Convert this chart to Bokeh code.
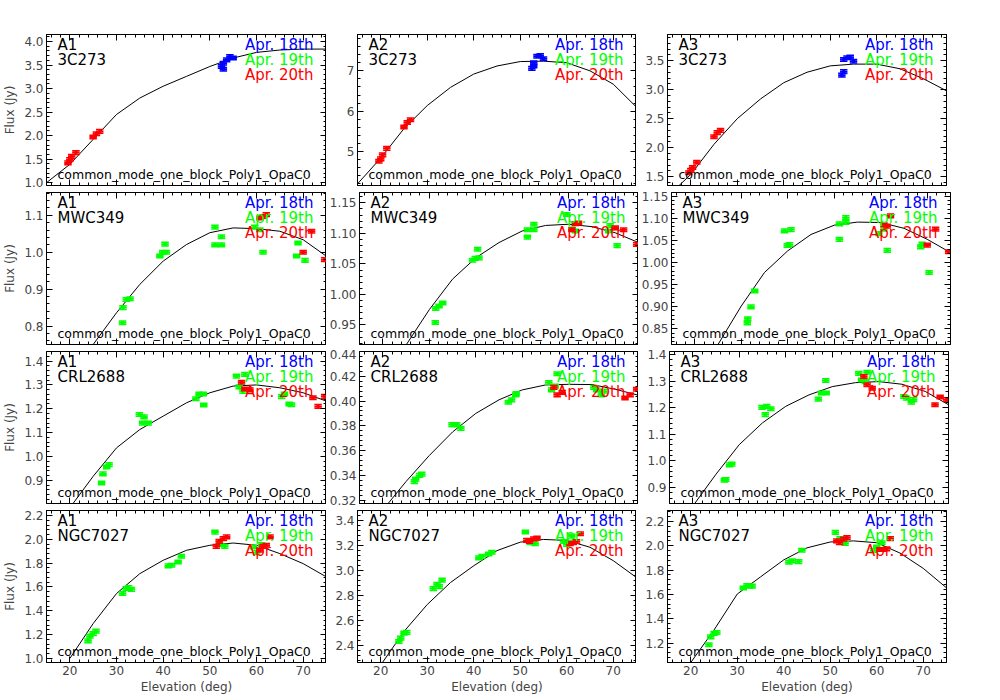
from bokeh.plotting import figure
from bokeh.layouts import column, row
from bokeh.models import Range1d, LinearAxis, SingleIntervalTicker, PrintfTickFormatter, CustomJSTickFormatter, Label, ColumnDataSource
from bokeh.embed import file_html
from bokeh.resources import INLINE

antennas = ["A1", "A2", "A3"]
sources = ["3C273", "MWC349", "CRL2688", "NGC7027"]
day_labels = ["Apr. 18th", "Apr. 19th", "Apr. 20th"]
day_colors = ["#0000ff", "#00ff00", "#ff0000"]
bottom_text = "common_mode_one_block_Poly1_OpaC0"
curve_el = [15, 20, 25, 30, 35, 40, 45, 50, 55, 60, 65, 70, 75]

# ---- 3C273 ----
c3_el18 = [52.5, 52.9, 52.9, 53.6, 54.3, 55.0]
c3_el20 = [19.6, 20.0, 20.4, 21.3, 25.0, 25.7, 26.4]
c3_A1_18 = [3.47, 3.41, 3.54, 3.61, 3.68, 3.65]
c3_A1_20 = [1.42, 1.49, 1.56, 1.64, 1.97, 2.04, 2.09]
c3_A2_18 = [7.06, 7.12, 7.20, 7.36, 7.38, 7.30]
c3_A2_20 = [4.76, 4.82, 4.92, 5.08, 5.61, 5.72, 5.79]
c3_A3_18 = [3.25, 3.31, 3.52, 3.55, 3.56, 3.49]
c3_A3_20 = [1.57, 1.61, 1.66, 1.75, 2.19, 2.26, 2.30]
c3_A1_fit = [1.00, 1.39, 1.92, 2.45, 2.80, 3.05, 3.26, 3.47, 3.65, 3.77, 3.82, 3.84, 3.84]
c3_A2_fit = [4.20, 4.84, 5.57, 6.14, 6.59, 6.92, 7.12, 7.23, 7.24, 7.20, 7.00, 6.67, 6.10]
c3_A3_fit = [1.16, 1.54, 2.06, 2.50, 2.84, 3.12, 3.30, 3.41, 3.44, 3.44, 3.36, 3.19, 2.98]

# ---- MWC349 ----
mw_el19 = [31.3, 31.4, 32.1, 32.9, 39.3, 39.9, 40.4, 40.7, 51.1, 51.1, 52.5, 52.5, 59.6, 60.7, 61.4, 68.6, 68.9, 70.4]
mw_el20 = [60.7, 61.4, 62.1, 70.0, 71.8, 74.6]
mw_A1_19 = [0.809, 0.85, 0.872, 0.874, 0.99, 1.0, 1.022, 1.0, 1.068, 1.02, 1.02, 1.042, 1.068, 1.061, 1.0, 0.99, 1.025, 0.978]
mw_A1_20 = [1.093, 1.097, 1.102, 1.0, 1.057, 0.98]
mw_A2_19 = [0.954, 0.977, 0.981, 0.986, 1.056, 1.059, 1.074, 1.06, 1.094, 1.106, 1.115, 1.106, 1.131, 1.107, 1.104, 1.104, 1.113, 1.080]
mw_A2_20 = [1.106, 1.116, 1.117, 1.109, 1.106, 1.082]
mw_A3_19 = [0.863, 0.872, 0.899, 0.935, 1.071, 1.038, 1.04, 1.074, 1.052, 1.087, 1.09, 1.101, 1.065, 1.075, 1.027, 1.035, 1.041, 0.977]
mw_A3_20 = [1.085, 1.082, 1.105, 1.039, 1.075, 1.024]
mw_A1_fit = [None, None, 0.75, 0.836, 0.913, 0.976, 1.021, 1.053, 1.066, 1.064, 1.057, 1.034, 0.989]
mw_A2_fit = [None, None, 0.917, 0.975, 1.025, 1.060, 1.085, 1.104, 1.113, 1.115, 1.111, 1.101, 1.085]
mw_A3_fit = [None, None, 0.814, 0.901, 0.977, 1.026, 1.063, 1.084, 1.091, 1.090, 1.077, 1.052, 1.022]

# ---- CRL2688 ----
cr_el19 = [26.8, 27.1, 27.9, 28.4, 34.9, 35.6, 35.9, 36.8, 47.0, 47.7, 48.6, 48.7, 55.7, 56.3, 57.1, 57.5, 65.4, 66.0, 67.0, 67.5]
cr_el20 = [56.8, 57.5, 58.6, 72.1, 73.2, 74.6]
cr_A1_19 = [0.889, 0.927, 0.956, 0.966, 1.176, 1.14, 1.166, 1.14, 1.242, 1.262, 1.262, 1.216, 1.337, 1.292, 1.273, 1.344, 1.251, 1.262, 1.22, 1.217]
cr_A1_20 = [1.311, 1.283, 1.279, 1.246, 1.21, 1.252]
cr_A2_19 = [0.335, 0.337, 0.340, 0.341, 0.381, 0.381, 0.381, 0.378, 0.399, 0.401, 0.405, 0.406, 0.415, 0.409, 0.412, 0.422, 0.411, 0.409, 0.405, 0.408]
cr_A2_20 = [0.411, 0.405, 0.407, 0.4025, 0.405, 0.4095]
cr_A3_19 = [0.928, 0.93, 0.985, 0.988, 1.201, 1.174, 1.205, 1.196, 1.232, 1.255, 1.302, 1.255, 1.329, 1.304, 1.298, 1.333, 1.242, 1.236, 1.221, 1.23]
cr_A3_20 = [1.317, 1.286, 1.273, 1.211, 1.24, 1.23]
cr_A1_fit = [None, 0.785, 0.917, 1.036, 1.113, 1.169, 1.225, 1.267, 1.295, 1.300, 1.288, 1.267, 1.232]
cr_A2_fit = [None, 0.312, 0.335, 0.356, 0.375, 0.390, 0.401, 0.409, 0.413, 0.4135, 0.4133, 0.4095, 0.4047]
cr_A3_fit = [None, 0.83, 0.95, 1.061, 1.143, 1.205, 1.248, 1.279, 1.294, 1.298, 1.288, 1.261, 1.211]

# ---- NGC7027 ----
ng_el19 = [23.9, 24.3, 25.0, 25.6, 31.3, 32.1, 32.6, 33.2, 41.1, 41.8, 43.2, 43.9, 51.1, 52.1, 53.2, 59.3, 60.0, 61.1]
ng_el20 = [51.4, 52.0, 52.9, 53.6, 60.7, 61.4, 62.1, 62.9]
ng_A1_19 = [1.148, 1.187, 1.209, 1.229, 1.545, 1.587, 1.594, 1.58, 1.777, 1.782, 1.81, 1.858, 2.061, 1.955, 1.941, 1.936, 1.888, 1.955]
ng_A1_20 = [1.941, 1.983, 2.006, 2.02, 1.908, 1.941, 1.95, 2.02]
ng_A2_19 = [2.429, 2.456, 2.497, 2.502, 2.855, 2.89, 2.871, 2.923, 3.102, 3.115, 3.134, 3.148, 3.311, 3.224, 3.216, 3.234, 3.21, 3.278]
ng_A2_20 = [3.243, 3.234, 3.256, 3.262, 3.216, 3.224, 3.234, 3.297]
ng_A3_19 = [1.186, 1.251, 1.279, 1.287, 1.653, 1.673, 1.668, 1.668, 1.865, 1.876, 1.87, 1.963, 2.11, 2.059, 2.02, 1.96, 1.99, 2.025]
ng_A3_20 = [2.04, 2.026, 2.054, 2.068, 1.969, 1.969, 1.975, 2.059]
ng_A1_fit = [None, 1.0, 1.293, 1.545, 1.712, 1.824, 1.908, 1.95, 1.969, 1.95, 1.88, 1.796, 1.684]
ng_A2_fit = [None, 2.24, 2.51, 2.727, 2.904, 3.039, 3.161, 3.229, 3.251, 3.243, 3.188, 3.08, 2.944]
ng_A3_fit = [None, 1.04, 1.307, 1.603, 1.744, 1.884, 1.983, 2.031, 2.04, 2.025, 1.94, 1.814, 1.654]

y_ranges = [
    [(0.94, 4.15), (4.16, 7.9), (1.35, 3.95)],
    [(0.75, 1.162), (0.918, 1.167), (0.814, 1.158)],
    [(0.803, 1.44), (0.3173, 0.44), (0.84, 1.411)],
    [(0.966, 2.242), (2.26, 3.484), (1.04, 2.29)],
]
y_steps = [[0.5, 1, 0.5], [0.1, 0.05, 0.05], [0.1, 0.02, 0.1], [0.2, 0.2, 0.2]]
y_fmts = [["%.1f", "%d", "%.1f"], ["%.1f", "%.2f", "%.2f"], ["%.1f", "%.2f", "%.1f"], ["%.1f", "%.1f", "%.1f"]]

panels = {
    (0, 0): [(c3_el18, c3_A1_18, 0), (c3_el20, c3_A1_20, 2), c3_A1_fit],
    (0, 1): [(c3_el18, c3_A2_18, 0), (c3_el20, c3_A2_20, 2), c3_A2_fit],
    (0, 2): [(c3_el18, c3_A3_18, 0), (c3_el20, c3_A3_20, 2), c3_A3_fit],
    (1, 0): [(mw_el19, mw_A1_19, 1), (mw_el20, mw_A1_20, 2), mw_A1_fit],
    (1, 1): [(mw_el19, mw_A2_19, 1), (mw_el20, mw_A2_20, 2), mw_A2_fit],
    (1, 2): [(mw_el19, mw_A3_19, 1), (mw_el20, mw_A3_20, 2), mw_A3_fit],
    (2, 0): [(cr_el19, cr_A1_19, 1), (cr_el20, cr_A1_20, 2), cr_A1_fit],
    (2, 1): [(cr_el19, cr_A2_19, 1), (cr_el20, cr_A2_20, 2), cr_A2_fit],
    (2, 2): [(cr_el19, cr_A3_19, 1), (cr_el20, cr_A3_20, 2), cr_A3_fit],
    (3, 0): [(ng_el19, ng_A1_19, 1), (ng_el20, ng_A1_20, 2), ng_A1_fit],
    (3, 1): [(ng_el19, ng_A2_19, 1), (ng_el20, ng_A2_20, 2), ng_A2_fit],
    (3, 2): [(ng_el19, ng_A3_19, 1), (ng_el20, ng_A3_20, 2), ng_A3_fit],
}

FONT = "DejaVu Sans"
left_borders = [42, 31, 31]
right_borders = [0, 0, 50]
top_borders = [34, 2, 2, 2]
bottom_borders = [5, 5, 5, 36]

def style_axis(ax, labels, step, fmt, minor):
    ax.ticker = SingleIntervalTicker(interval=step, num_minor_ticks=minor)
    if labels:
        ax.formatter = PrintfTickFormatter(format=fmt)
        ax.major_label_standoff = 3
    else:
        ax.formatter = CustomJSTickFormatter(code="return ''")
        ax.major_label_standoff = 0
    ax.major_label_text_font_size = "12px"
    ax.major_tick_in = 6
    ax.major_tick_out = 0
    ax.minor_tick_in = 3
    ax.minor_tick_out = 0
    ax.axis_line_color = "black"
    ax.major_tick_line_color = "black"
    ax.minor_tick_line_color = "black"
    ax.major_label_text_font = FONT
    ax.axis_label_text_font = FONT
    ax.axis_label_text_font_size = "12px"
    ax.axis_label_text_font_style = "normal"

rows = []
for r in range(4):
    figs = []
    for c in range(3):
        y0, y1 = y_ranges[r][c]
        p = figure(frame_width=280 if c == 0 else 279, frame_height=151 if r == 0 else 152,
                   x_range=Range1d(15, 75), y_range=Range1d(y0, y1),
                   output_backend="svg", toolbar_location=None,
                   min_border_left=left_borders[c], min_border_right=right_borders[c],
                   min_border_top=top_borders[r], min_border_bottom=bottom_borders[r],
                   background_fill_color="white", border_fill_color="white")
        p.grid.visible = False
        p.outline_line_color = "black"
        style_axis(p.xaxis[0], r == 3, 10, "%d", 5)
        style_axis(p.yaxis[0], True, y_steps[r][c], y_fmts[r][c], 5)
        if r == 3:
            p.xaxis[0].axis_label = "Elevation (deg)"
            p.xaxis[0].axis_label_standoff = 2
        if c == 0:
            p.yaxis[0].axis_label = "Flux (Jy)"
            p.yaxis[0].axis_label_standoff = 4
        top = LinearAxis()
        style_axis(top, False, 10, "%d", 5)
        p.add_layout(top, "above")
        rt = LinearAxis()
        style_axis(rt, False, y_steps[r][c], y_fmts[r][c], 5)
        p.add_layout(rt, "right")

        d1, d2, fit = panels[(r, c)]
        fx = [e for e, v in zip(curve_el, fit) if v is not None]
        fy = [v for v in fit if v is not None]
        p.line(fx, fy, color="black", line_width=1)
        err = 0.012 * (y1 - y0)
        for el, fl, di in (d1, d2):
            col = day_colors[di]
            src = ColumnDataSource(dict(
                x=el, y=fl,
                x0=[e - 0.8 for e in el], x1=[e + 0.8 for e in el],
                lo=[f - err for f in fl], hi=[f + err for f in fl]))
            p.segment("x0", "y", "x1", "y", source=src, color=col, line_width=2)
            p.segment("x0", "lo", "x1", "lo", source=src, color=col, line_width=1.5)
            p.segment("x0", "hi", "x1", "hi", source=src, color=col, line_width=1.5)
            p.segment("x", "lo", "x", "hi", source=src, color=col, line_width=3)

        p.add_layout(Label(x=15, y=y1, x_offset=11, y_offset=-1, text=antennas[c],
                           text_baseline="top", text_font=FONT, text_font_size="15px", text_color="black"))
        p.add_layout(Label(x=15, y=y1, x_offset=11, y_offset=-16, text=sources[r],
                           text_baseline="top", text_font=FONT, text_font_size="15px", text_color="black"))
        for k in range(3):
            p.add_layout(Label(x=75, y=y1, x_offset=-13, y_offset=-1 - 15 * k, text=day_labels[k],
                               text_align="right", text_baseline="top", text_font=FONT,
                               text_font_size="15px", text_color=day_colors[k]))
        p.add_layout(Label(x=15, y=y0, x_offset=11, y_offset=11, text=bottom_text,
                           text_baseline="alphabetic", text_font=FONT, text_font_size="12.5px",
                           text_color="black"))
        figs.append(p)
    rows.append(row(*figs))

layout = column(*rows)
open("out.html", "w").write(file_html(layout, INLINE))
